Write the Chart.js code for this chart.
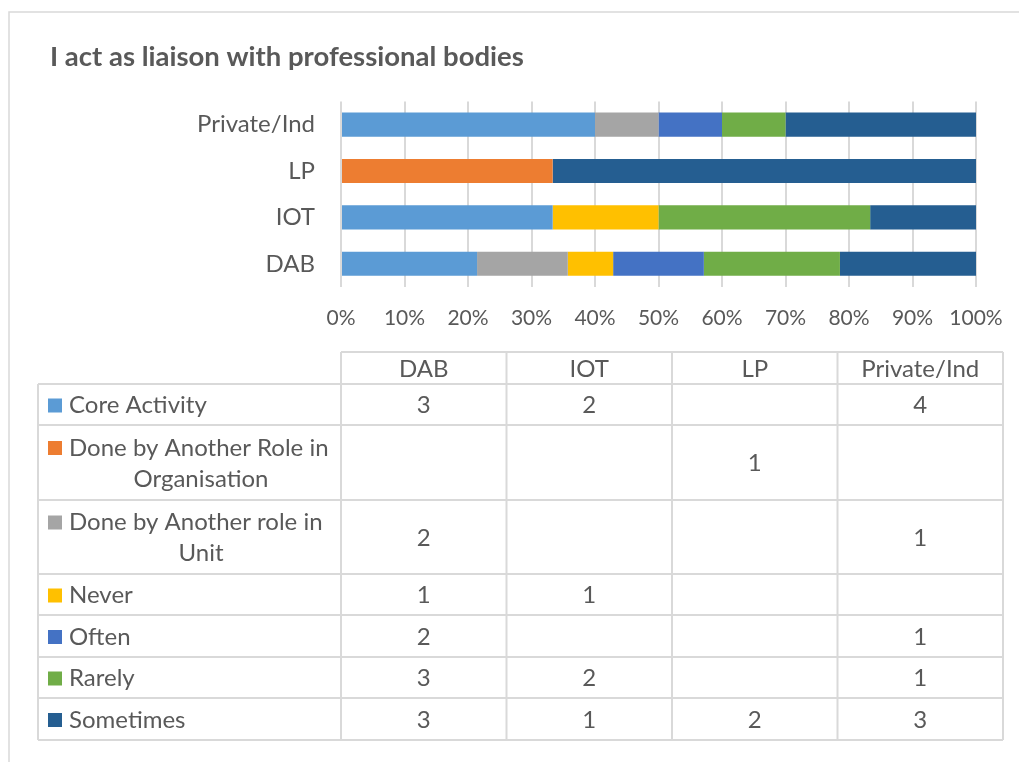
<!DOCTYPE html>
<html>
<head>
<meta charset="utf-8">
<script src="https://cdn.jsdelivr.net/npm/chart.js@4.4.1/dist/chart.umd.min.js"></script>
<style>
  html, body { margin: 0; padding: 0; background: #fff; }
  #wrap { position: relative; width: 1019px; height: 762px; }
</style>
</head>
<body>
<div id="wrap"><canvas id="c" width="1019" height="762"></canvas></div>
<script>
// ---- data ----
const chartTitle = 'I act as liaison with professional bodies';
const categories = ['DAB', 'IOT', 'LP', 'Private/Ind'];
const seriesNames = ['Core Activity', 'Done by Another Role in Organisation', 'Done by Another role in Unit', 'Never', 'Often', 'Rarely', 'Sometimes'];
const seriesLabelLines = [['Core Activity'], ['Done by Another Role in', 'Organisation'], ['Done by Another role in', 'Unit'], ['Never'], ['Often'], ['Rarely'], ['Sometimes']];
const coreActivity = [3, 2, null, 4];
const doneByAnotherRoleInOrganisation = [null, null, 1, null];
const doneByAnotherRoleInUnit = [2, null, null, 1];
const never = [1, 1, null, null];
const often = [2, null, null, 1];
const rarely = [3, 2, null, 1];
const sometimes = [3, 1, 2, 3];
const xTickLabels = ['0%', '10%', '20%', '30%', '40%', '50%', '60%', '70%', '80%', '90%', '100%'];
const seriesColors = ['#5B9BD5', '#ED7D31', '#A5A5A5', '#FFC000', '#4472C4', '#70AD47', '#255E91'];

const seriesValues = [coreActivity, doneByAnotherRoleInOrganisation, doneByAnotherRoleInUnit, never, often, rarely, sometimes];
const totals = categories.map((_, i) => seriesValues.reduce((s, arr) => s + (arr[i] || 0), 0));

const FONT = 'Lato, "Open Sans", sans-serif';
const TEXT = '#595959';
const GRID = '#D9D9D9';
const TABLE_FONT = 24;

const datasets = seriesValues.map((arr, k) => ({
  label: seriesNames[k],
  data: arr.map((v, i) => v == null ? null : v / totals[i] * 100),
  backgroundColor: seriesColors[k],
  borderWidth: 0,
  barPercentage: 0.52,
  categoryPercentage: 1.0
}));

// table layout (styling only)
const tableLegendLeft = 38;
const tableTop = 352;
const headerH = 32;
const colW = 165.5;
const rowHeights = [41, 75, 74, 41, 42, 41, 42];
const lineGap = 31;

const framePlugin = {
  id: 'frame',
  beforeDraw(chart) {
    const ctx = chart.ctx;
    ctx.save();
    ctx.fillStyle = '#fff';
    ctx.fillRect(0, 0, chart.width, chart.height);
    ctx.strokeStyle = GRID;
    ctx.lineWidth = 1.5;
    ctx.beginPath();
    ctx.moveTo(9, chart.height + 5);
    ctx.lineTo(9, 12);
    ctx.lineTo(chart.width + 5, 12);
    ctx.stroke();
    ctx.restore();
  }
};

const tablePlugin = {
  id: 'dataTable',
  afterDraw(chart) {
    const ctx = chart.ctx;
    const left = chart.chartArea.left;
    const nCols = categories.length;
    const right = left + colW * nCols;
    const totalRowsH = rowHeights.reduce((a, b) => a + b, 0);
    const bodyTop = tableTop + headerH;
    const bottom = bodyTop + totalRowsH;
    ctx.save();
    ctx.strokeStyle = GRID;
    ctx.lineWidth = 2;
    ctx.beginPath();
    ctx.moveTo(left, tableTop); ctx.lineTo(right, tableTop);
    for (let c = 0; c <= nCols; c++) {
      const x = left + c * colW;
      ctx.moveTo(x, tableTop); ctx.lineTo(x, bottom);
    }
    ctx.moveTo(tableLegendLeft, bodyTop); ctx.lineTo(tableLegendLeft, bottom);
    let y = bodyTop;
    ctx.moveTo(tableLegendLeft, y); ctx.lineTo(right, y);
    rowHeights.forEach(h => { y += h; ctx.moveTo(tableLegendLeft, y); ctx.lineTo(right, y); });
    ctx.stroke();

    ctx.fillStyle = TEXT;
    ctx.font = TABLE_FONT + 'px ' + FONT;
    ctx.textBaseline = 'middle';
    ctx.textAlign = 'center';
    categories.forEach((cat, c) => {
      ctx.fillText(cat, left + c * colW + colW / 2, tableTop + headerH / 2 + 1);
    });
    y = bodyTop;
    seriesValues.forEach((arr, k) => {
      const h = rowHeights[k];
      const cy = y + h / 2 + 1;
      const lines = seriesLabelLines[k];
      const n = lines.length;
      lines.forEach((ln, j) => {
        const ly = cy + (j - (n - 1) / 2) * lineGap;
        if (j === 0) {
          ctx.fillStyle = seriesColors[k];
          ctx.fillRect(48, ly - 7, 14, 14);
          ctx.fillStyle = TEXT;
          ctx.textAlign = 'left';
          ctx.fillText(ln, 69, ly);
        } else {
          ctx.textAlign = 'center';
          ctx.fillText(ln, 201, ly);
        }
      });
      ctx.textAlign = 'center';
      arr.forEach((v, i) => {
        if (v != null) ctx.fillText(String(v), left + i * colW + colW / 2, cy);
      });
      y += h;
    });
    ctx.restore();
  }
};

new Chart(document.getElementById('c'), {
  type: 'bar',
  data: { labels: categories, datasets },
  options: {
    indexAxis: 'y',
    responsive: false,
    animation: false,
    layout: { padding: { left: 50, right: 43, top: 0, bottom: 430 } },
    plugins: {
      legend: { display: false },
      tooltip: { enabled: false },
      title: {
        display: true,
        text: chartTitle,
        align: 'start',
        color: TEXT,
        font: { family: FONT, size: 27.5, weight: 'bold' },
        padding: { top: 41, bottom: 27.4 }
      }
    },
    scales: {
      x: {
        stacked: true,
        min: 0, max: 100,
        ticks: {
          stepSize: 10,
          color: TEXT,
          font: { family: FONT, size: 21 },
          padding: 19,
          callback: (v, i) => xTickLabels[i]
        },
        grid: { color: GRID, lineWidth: 2, drawTicks: false },
        border: { display: false },
        afterFit(scale) { scale.height = 45; scale.paddingLeft = 0; scale.paddingRight = 0; }
      },
      y: {
        stacked: true,
        reverse: true,
        ticks: {
          color: TEXT,
          font: { family: FONT, size: TABLE_FONT },
          padding: 26
        },
        grid: { display: false, drawTicks: false },
        border: { display: false },
        afterFit(scale) { scale.width = 291; }
      }
    }
  },
  plugins: [framePlugin, tablePlugin]
});
</script>
</body>
</html>
